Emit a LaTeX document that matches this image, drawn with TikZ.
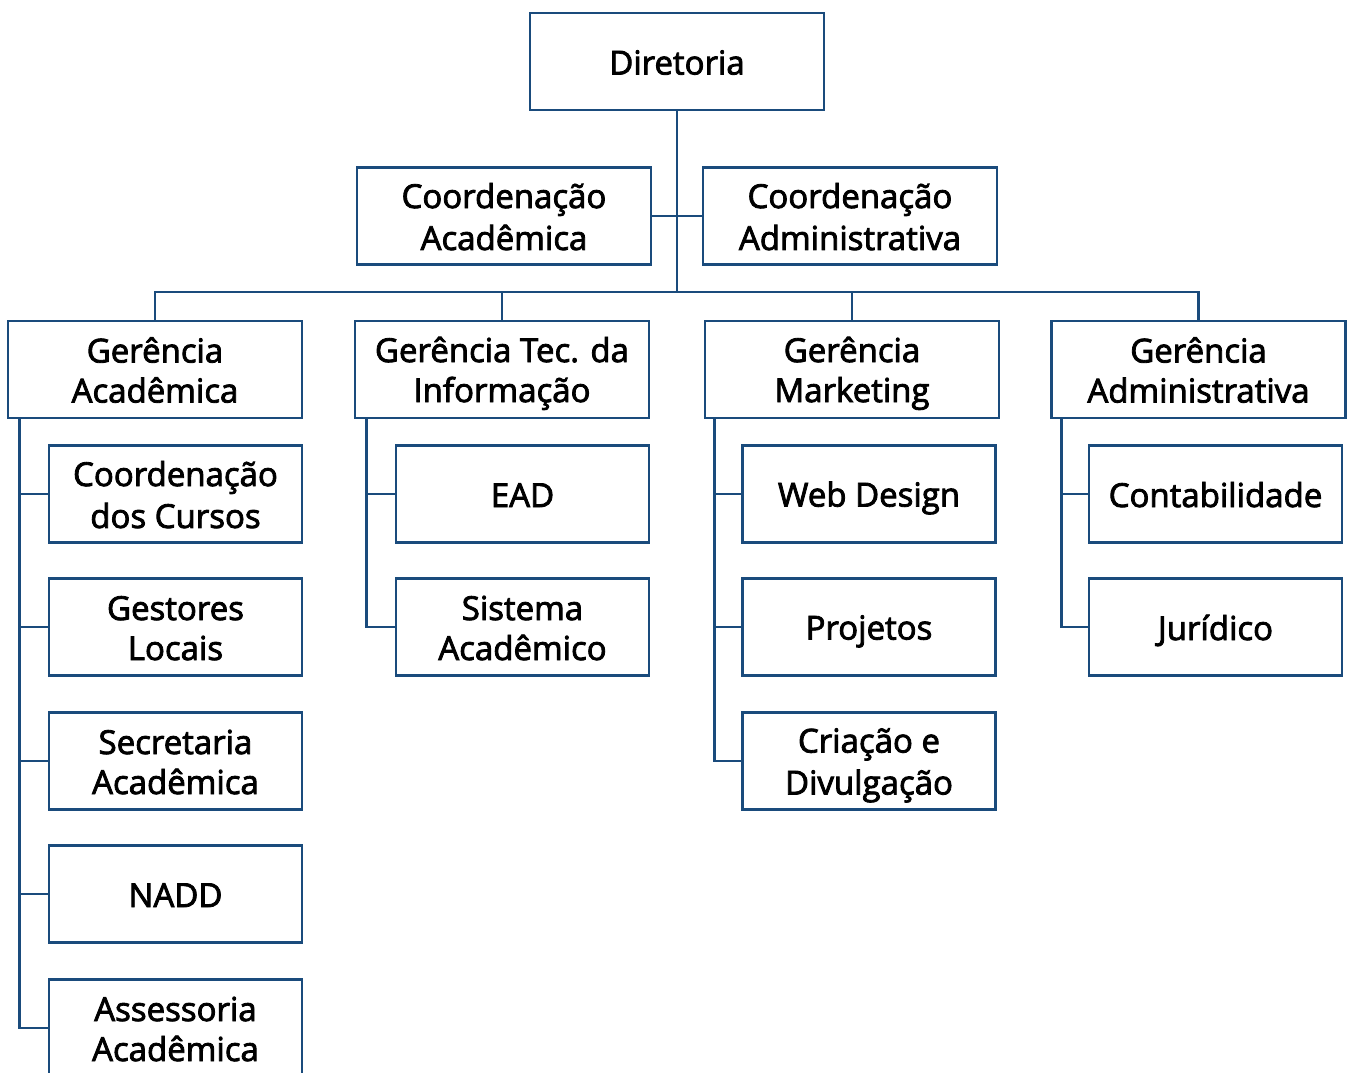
\documentclass[tikz,border=0pt]{standalone}
\usepackage{fontspec}
\setmainfont{Open Sans}
\newfontfamily\boxfont[FakeBold=2.5]{Open Sans}
\definecolor{boxblue}{HTML}{1A4B7C}
\newcommand\ls{\rule[-7pt]{0pt}{40pt}}
\begin{document}
\begin{tikzpicture}[x=1pt,y=-1pt,
  box/.style={draw=boxblue,line width=2.6pt,fill=white,inner sep=0pt,
    minimum width=294pt,minimum height=97pt,align=center,
    font=\boxfont\fontsize{33}{40}\selectfont},
  sub/.style={box,minimum width=253pt},
  link/.style={draw=boxblue,line width=2.6pt}]
\useasboundingbox (0,0) rectangle (1349,1073);
\clip (0,0) rectangle (1349,1073);
% top
\node[box] (dir) at (677,61.5) {\ls Diretoria};
\node[box] (ca) at (504,216) {\ls Coordenação\\\ls Acadêmica};
\node[box] (cad) at (850,216) {\ls Coordenação\\\ls Administrativa};
% managers
\node[box] (ga) at (155,369.5) {\ls Gerência\\\ls Acadêmica};
\node[box] (gti) at (502,369.5) {\ls Gerência Tec. da\\\ls Informação};
\node[box] (gm) at (852,369.5) {\ls Gerência\\\ls Marketing};
\node[box] (gad) at (1198.5,369.5) {\ls Gerência\\\ls Administrativa};
% academic children
\node[sub] (a1) at (175.5,494) {\ls Coordenação\\\ls dos Cursos};
\node[sub] (a2) at (175.5,627) {\ls Gestores\\\ls Locais};
\node[sub] (a3) at (175.5,761) {\ls Secretaria\\\ls Acadêmica};
\node[sub] (a4) at (175.5,894) {\ls NADD};
\node[sub] (a5) at (175.5,1028) {\ls Assessoria\\\ls Acadêmica};
% TI children
\node[sub] (t1) at (522.5,494) {\ls EAD};
\node[sub] (t2) at (522.5,627) {\ls Sistema\\\ls Acadêmico};
% marketing children
\node[sub] (m1) at (869,494) {\ls Web Design};
\node[sub] (m2) at (869,627) {\ls Projetos};
\node[sub] (m3) at (869,761) {\ls Criação e\\\ls Divulgação};
% admin children
\node[sub] (d1) at (1215.5,494) {\ls Contabilidade};
\node[sub] (d2) at (1215.5,627) {\ls Jurídico};
% connectors
\coordinate (bus) at (677,292);
\path[link] (dir.south) -- (bus);
\path[link] (ca.east) -- (cad.west);
\path[link] (ga.north) |- (bus) -| (gad.north);
\path[link] (gti.north) -- (gti.north |- bus);
\path[link] (gm.north) -- (gm.north |- bus);
\foreach \c in {a1,a2,a3,a4,a5} \path[link] ([xshift=13pt]ga.south west) |- (\c.west);
\foreach \c in {t1,t2} \path[link] ([xshift=13pt]gti.south west) |- (\c.west);
\foreach \c in {m1,m2,m3} \path[link] ([xshift=11pt]gm.south west) |- (\c.west);
\foreach \c in {d1,d2} \path[link] ([xshift=11pt]gad.south west) |- (\c.west);
\end{tikzpicture}
\end{document}
